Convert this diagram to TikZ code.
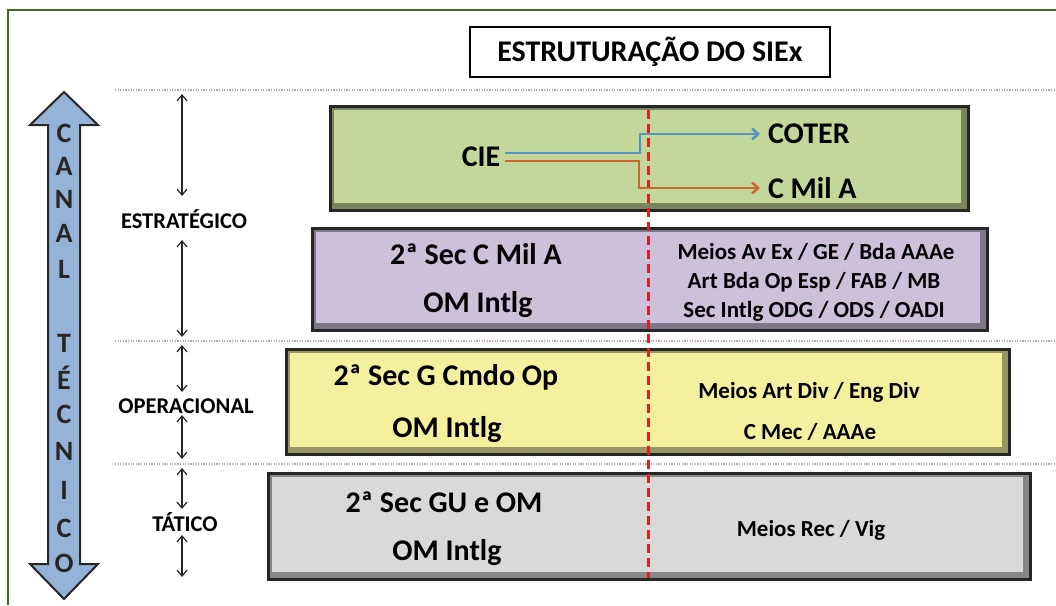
\documentclass[tikz,border=0pt]{standalone}
\usepackage{fontspec}
\setmainfont{Carlito}
\usetikzlibrary{arrows.meta}
\definecolor{cmoldura}{RGB}{62,112,32}
\definecolor{cazul}{RGB}{149,179,215}
\definecolor{cverde}{RGB}{196,215,155}
\definecolor{clilas}{RGB}{204,192,218}
\definecolor{camarelo}{RGB}{244,240,158}
\definecolor{ccinza}{RGB}{217,217,217}
\definecolor{cpontos}{RGB}{196,160,168}
\definecolor{cvermelho}{RGB}{222,32,32}
\definecolor{clinhaazul}{RGB}{84,150,190}
\definecolor{clinhalaranja}{RGB}{204,102,48}

\tikzset{
  levelbox/.style={draw=black!85,line width=3pt},
  sepline/.style={draw=cpontos,line width=1.2pt,dash pattern=on 1.2pt off 1.4pt},
  lvlarrow/.style={draw=black!85,line width=1.2pt,{Straight Barb[length=6pt,width=10pt]}-{Straight Barb[length=6pt,width=10pt]}},
  fluxo/.style={line width=2.6pt,-{Straight Barb[length=6pt,width=11pt]},shorten >=8pt},
  txtgrande/.style={font=\bfseries\fontsize{30}{32}\selectfont},
  txtmedio/.style={font=\bfseries\fontsize{23}{25}\selectfont},
  txtnivel/.style={font=\bfseries\fontsize{22.5}{24}\selectfont},
}

\begin{document}
\begin{tikzpicture}[y=1pt,x=1pt,yscale=-1, inner sep=0pt, outer sep=0pt]
  \useasboundingbox (0,0) rectangle (1056,605);
  \path[draw=cmoldura,line width=2pt] (8,605) -- (8,10) -- (1056,10);

  % titulo
  \node[draw=black,line width=2pt,minimum width=360,minimum height=50,txtgrande] (titulo) at (650,52) {ESTRUTURAÇÃO DO SIEx};

  % linhas de nivel
  \path[sepline] (115,90) -- (1056,90);
  \path[sepline] (115,341) -- (1056,341);
  \path[sepline] (115,464) -- (1056,464);

  % canal tecnico
  \path[fill=cazul,draw=black!85,line width=2pt] (64,92) -- (98,125) -- (80,125)
    -- (80,564) -- (98,564) -- (64,599) -- (30,564) -- (48,564) -- (48,125)
    -- (30,125) -- cycle;
  \foreach \letra/\yy in {C/133,A/166,N/199,A/233,L/269,T/343,É/378,C/414,N/451,I/490,C/528,O/563}
    \node[font=\bfseries\fontsize{28}{30}\selectfont,text=black!85] (canal-\yy) at (64,\yy) {\letra};

  % niveis
  \node[txtnivel] (estrat) at (184,219) {ESTRATÉGICO};
  \node[txtnivel] (operac) at (186,406) {OPERACIONAL};
  \node[txtnivel] (tatico) at (185,522) {TÁTICO};
  \foreach \nome/\ya/\yb in {ea/94/196,eb/240/337,oa/345/392,ob/415/459,ta/468/509,tb/535/577} {
    \coordinate (\nome-topo) at (182,\ya);
    \coordinate (\nome-base) at (182,\yb);
    \draw[lvlarrow] (\nome-topo) -- (\nome-base);
  }

  % caixas
  \foreach \nome/\cx/\cy/\w/\h/\cor in {estrA/649/158/638/104/cverde,estrB/650/279/675/102/clilas,oper/648/402/723/105/camarelo,tat/649/526/762/106/ccinza} {
    \node[levelbox,fill=\cor!62!black,minimum width=\w,minimum height=\h] (caixa-\nome) at (\cx,\cy) {};
    \node[fill=\cor,minimum width=\w-11,minimum height=\h-11] (miolo-\nome) at (\cx-2,\cy-2) {};
  }

  % eixo central
  \coordinate (eixo-topo) at (648,110);
  \coordinate (eixo-base) at (648,578);
  \draw[cvermelho,line width=3pt,dash pattern=on 9pt off 5pt] (eixo-topo) -- (eixo-base);

  % CIE
  \node[txtgrande] (cie) at (481,157) {CIE};
  \node[txtgrande,anchor=west] (coter) at (768,134) {COTER};
  \node[txtgrande,anchor=west] (cmila) at (768,188) {C Mil A};
  \coordinate (cie-azul) at (505,153);
  \coordinate (cie-laranja) at (505,161);
  \coordinate (dobra-azul) at (640,134);
  \coordinate (dobra-laranja) at (639,188);
  \draw[fluxo,clinhaazul] (cie-azul) -| (dobra-azul) -- (coter.west);
  \draw[fluxo,clinhalaranja] (cie-laranja) -| (dobra-laranja) -- (cmila.west);

  % textos das caixas
  \node[txtgrande] (secmila) at (476,254) {2ª Sec C Mil A};
  \node[txtgrande] (omintlg-a) at (478,305) {OM Intlg};
  \node[txtmedio] (meios-a) at (816,252) {Meios Av Ex / GE / Bda AAAe};
  \node[txtmedio] (art-a) at (814,282) {Art Bda Op Esp / FAB / MB};
  \node[txtmedio] (secintlg-a) at (814,311) {Sec Intlg ODG / ODS / OADI};

  \node[txtgrande] (seccmdo) at (446,377) {2ª Sec G Cmdo Op};
  \node[txtgrande] (omintlg-b) at (447,430) {OM Intlg};
  \node[txtmedio] (meios-b) at (809,392) {Meios Art Div / Eng Div};
  \node[txtmedio] (cmec) at (810,432) {C Mec / AAAe};

  \node[txtgrande] (secgu) at (444,502) {2ª Sec GU e OM};
  \node[txtgrande] (omintlg-c) at (447,553) {OM Intlg};
  \node[txtmedio] (meios-c) at (811,530) {Meios Rec / Vig};
\end{tikzpicture}
\end{document}
